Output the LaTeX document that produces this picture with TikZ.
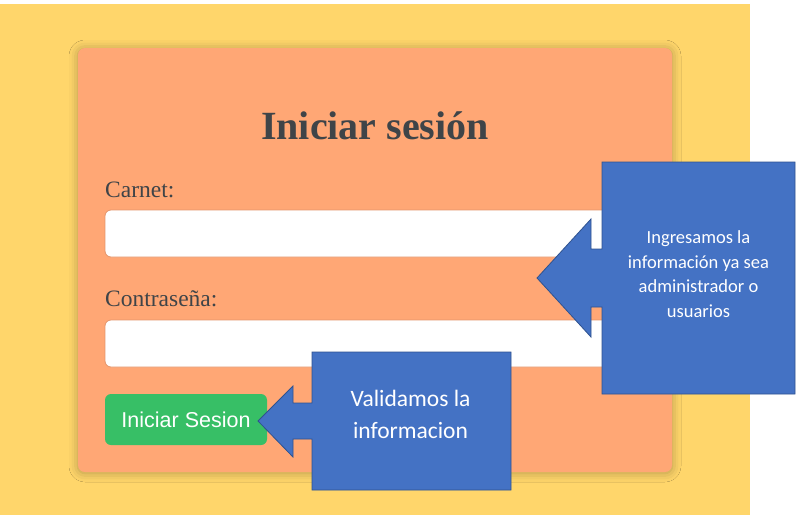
\documentclass[tikz,border=0pt]{standalone}
\usepackage{fontspec}
\setmainfont{Liberation Serif}
\newfontfamily\btnfont{Liberation Sans}
\newfontfamily\notefont{Carlito}
\usetikzlibrary{positioning,shadows.blur}
\definecolor{pagebg}{HTML}{FFD66B}
\definecolor{cardbg}{HTML}{FFA775}
\definecolor{inputedge}{HTML}{E3956B}
\definecolor{btngreen}{HTML}{37BF66}
\definecolor{noteblue}{HTML}{4472C4}
\definecolor{noteedge}{HTML}{2F528F}
\definecolor{inktext}{HTML}{3F4448}
\tikzset{
    card/.style = {fill=cardbg, rounded corners=7pt, inner sep=0pt,
        minimum width=594pt, minimum height=424pt,
        blur shadow={shadow xshift=0pt, shadow yshift=-1pt,
            shadow blur radius=9pt, shadow opacity=30}},
    field/.style = {fill=white, draw=inputedge, line width=0.8pt,
        rounded corners=6pt, inner sep=0pt,
        minimum width=540pt, minimum height=47pt},
    fieldlabel/.style = {anchor=base west, inner sep=0pt, text=inktext,
        font=\fontsize{23.5}{28}\selectfont},
    button/.style = {fill=btngreen, rounded corners=6pt, inner sep=0pt,
        minimum width=162pt, minimum height=51pt, text=white,
        font=\btnfont\fontsize{21.5}{25}\selectfont},
    note/.style = {fill=noteblue, draw=noteedge, line width=0.8pt},
    notetext/.style = {text=white, align=center, inner sep=0pt}
}
\begin{document}
\begin{tikzpicture}[x=1pt, y=-1pt]
    \useasboundingbox (0,0) rectangle (796,515);
    \fill[white] (0,0) rectangle (796,515);
    \fill[pagebg] (0,4) rectangle (750,515);
    % login card
    \node [card] (login) at (375,260) {};
    \node [anchor=base, inner sep=0pt, text=inktext,
        font=\bfseries\fontsize{40}{48}\selectfont] (title) at (375,139) {Iniciar sesión};
    \node [fieldlabel] (carnetlbl) at (105,197) {Carnet:};
    \node [field] (carnet) at (375,233.5) {};
    \node [fieldlabel] (passlbl) at (105,306) {Contraseña:};
    \node [field] (pass) at (375,343.5) {};
    \node [button] (submit) at (186,419.5) {Iniciar Sesion};
    % callouts
    \draw [note] (602,162) -- (795,162) -- (795,394) -- (602,394) -- (602,307)
        -- (591,307) -- (591,337) -- (537,278) -- (591,219) -- (591,249)
        -- (602,249) -- cycle;
    \node [notetext, font=\notefont\fontsize{18.5}{24.5}\selectfont] (infonote) at (698.5,274)
        {Ingresamos la\\información ya sea\\administrador o\\usuarios};
    \draw [note] (312,352) -- (511,352) -- (511,490) -- (312,490) -- (312,439)
        -- (293,439) -- (293,457) -- (258,421) -- (293,386) -- (293,403)
        -- (312,403) -- cycle;
    \node [notetext, font=\notefont\fontsize{23.5}{32}\selectfont] (checknote) at (410.5,414)
        {Validamos la\\informacion};
\end{tikzpicture}
\end{document}
